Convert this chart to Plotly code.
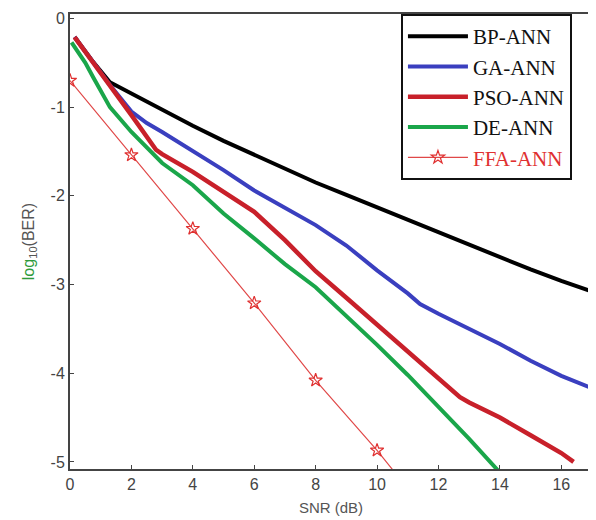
import plotly.graph_objects as go

# SNR grid values (dB) and log10(BER)
bp_x = [0.15, 0.75, 1.3, 2, 3, 4, 5, 6, 7, 8, 9, 10, 11, 12, 13, 14, 15, 16, 17]
bp_y = [-0.21, -0.49, -0.72, -0.85, -1.03, -1.21, -1.38, -1.54, -1.70, -1.85, -1.99, -2.13, -2.27, -2.42, -2.56, -2.70, -2.83, -2.96, -3.08]

ga_x = [0.15, 0.75, 1.3, 2, 2.5, 3, 4, 5, 6, 7, 8, 9, 10, 11, 11.4, 12, 13, 14, 15, 16, 17]
ga_y = [-0.21, -0.49, -0.75, -1.05, -1.18, -1.28, -1.49, -1.71, -1.94, -2.14, -2.33, -2.56, -2.84, -3.10, -3.22, -3.33, -3.50, -3.67, -3.86, -4.03, -4.17]

pso_x = [0.15, 0.75, 1.3, 2, 2.8, 3, 4, 5, 6, 7, 8, 9, 10, 11, 12, 12.7, 13, 14, 15, 16, 16.4]
pso_y = [-0.21, -0.49, -0.75, -1.09, -1.48, -1.53, -1.73, -1.95, -2.18, -2.50, -2.85, -3.15, -3.45, -3.75, -4.05, -4.27, -4.33, -4.50, -4.70, -4.90, -5.00]

de_x = [0.05, 0.5, 0.75, 1.3, 2, 2.8, 3, 4, 5, 6, 7, 8, 9, 10, 11, 12, 13, 14]
de_y = [-0.27, -0.50, -0.66, -1.00, -1.28, -1.57, -1.63, -1.88, -2.20, -2.48, -2.77, -3.03, -3.35, -3.68, -4.02, -4.38, -4.74, -5.12]

ffa_x = [0, 2, 4, 6, 8, 10, 11]
ffa_y = [-0.70, -1.54, -2.37, -3.21, -4.08, -4.87, -5.30]

x_ticks = [0, 2, 4, 6, 8, 10, 12, 14, 16]
y_ticks = [0, -1, -2, -3, -4, -5]

fig = go.Figure()
fig.add_trace(go.Scatter(x=bp_x, y=bp_y, mode="lines", name="BP-ANN",
                         line=dict(color="#000000", width=4)))
fig.add_trace(go.Scatter(x=ga_x, y=ga_y, mode="lines", name="GA-ANN",
                         line=dict(color="#3a3fbf", width=4)))
fig.add_trace(go.Scatter(x=pso_x, y=pso_y, mode="lines", name="PSO-ANN",
                         line=dict(color="#c8202a", width=4.5)))
fig.add_trace(go.Scatter(x=de_x, y=de_y, mode="lines", name="DE-ANN",
                         line=dict(color="#1aa64a", width=4)))
fig.add_trace(go.Scatter(x=ffa_x, y=ffa_y, mode="lines+markers",
                         name="<span style='color:#e03030'>FFA-ANN</span>",
                         line=dict(color="#e04848", width=1.2),
                         marker=dict(symbol="star-open", size=10, color="#e03030",
                                     line=dict(width=1.2, color="#e03030"))))

axis_common = dict(showline=True, linecolor="#444444", linewidth=2, mirror=True,
                   showgrid=False, zeroline=False, ticks="inside", ticklen=4,
                   tickcolor="#444444", automargin=False,
                   tickfont=dict(family="Liberation Sans, Arial", size=16, color="#444444"))

fig.update_xaxes(range=[0, 17], tickvals=x_ticks, ticktext=[str(v) for v in x_ticks],
                 title=dict(text="SNR (dB)", standoff=10,
                            font=dict(family="Liberation Sans, Arial", size=15, color="#555555")),
                 **axis_common)
fig.update_yaxes(range=[-5.08, 0.05], tickvals=y_ticks, ticktext=[str(v) for v in y_ticks],
                 title=dict(text="<span style='color:#2e9a3a'>log</span><sub>10</sub>(BER)", standoff=12,
                            font=dict(family="Liberation Sans, Arial", size=16, color="#555555")),
                 **axis_common)

# page body has an 8px margin, so the figure is sized to fit inside it
fig.update_layout(
    width=588, height=512,
    margin=dict(l=62, r=4, t=6, b=51),
    paper_bgcolor="white", plot_bgcolor="white",
    showlegend=True,
    legend=dict(x=0.634, y=1.0, xanchor="left", yanchor="top",
                bgcolor="white", bordercolor="#111111", borderwidth=2,
                font=dict(family="Liberation Serif, Times New Roman", size=21, color="#111111"),
                tracegroupgap=0, itemwidth=60),
)

fig.write_html("out.html")
